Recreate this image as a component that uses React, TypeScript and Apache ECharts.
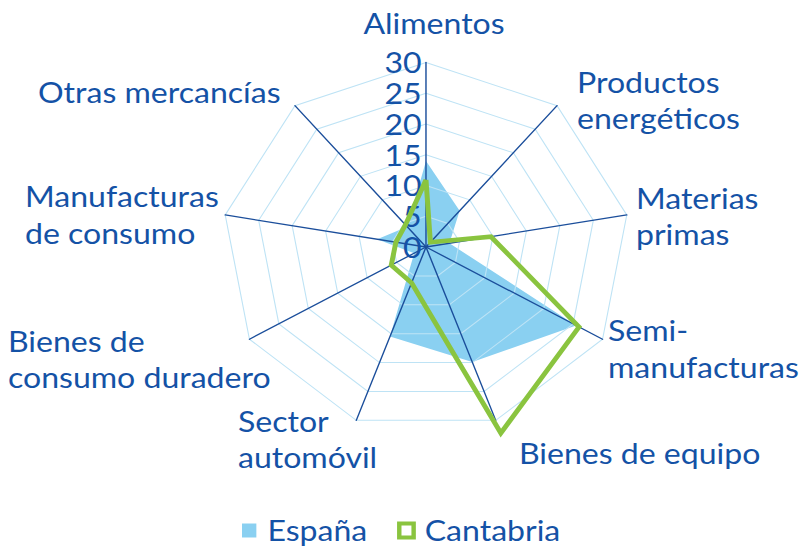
import React, { useEffect, useRef } from 'react';
import * as echarts from 'echarts';

// ---- data (clockwise from the top) ----
const categories = [
  'Alimentos',
  'Productos energéticos',
  'Materias primas',
  'Semi-manufacturas',
  'Bienes de equipo',
  'Sector automóvil',
  'Bienes de consumo duradero',
  'Manufacturas de consumo',
  'Otras mercancías',
];
const categoryLabels = [
  'Alimentos',
  'Productos\nenergéticos',
  'Materias\nprimas',
  'Semi-\nmanufacturas',
  'Bienes de equipo',
  'Sector\nautomóvil',
  'Bienes de\nconsumo duradero',
  'Manufacturas\nde consumo',
  'Otras mercancías',
];
const espana = [14.0, 7.7, 3.5, 25.5, 19.9, 15.5, 2.0, 7.3, 4.3];
const cantabria = [10.9, 1.0, 9.7, 26.0, 32.2, 6.2, 5.9, 4.5, 4.7];
const seriesNames = ['España', 'Cantabria'];
const axisMin = 0;
const axisMax = 30;
const axisStep = 5;

// ---- layout / style ----
const SX = 1.105;
const W = 804 / SX;
const FONT = 'Lato, "Noto Sans", sans-serif';
const TEXT = '#1452A6';
const AXIS = '#1B4E9B';
const GRID = '#BEE3F5';
const BLUE = '#8AD0F1';
const GREEN = '#8AC43F';
const FS = 29;
const LH = 36.5;

const labelLayout = [
  { x: 434 / SX, y: 23.5, align: 'center' },
  { x: 577 / SX, y: 82 + LH / 2, align: 'left' },
  { x: 636 / SX, y: 198 + LH / 2, align: 'left' },
  { x: 608 / SX, y: 330.5 + LH / 2, align: 'left' },
  { x: 519 / SX, y: 453, align: 'left' },
  { x: 238 / SX, y: 421 + LH / 2, align: 'left' },
  { x: 8 / SX, y: 341 + LH / 2, align: 'left' },
  { x: 25 / SX, y: 196.5 + LH / 2, align: 'left' },
  { x: 38 / SX, y: 92, align: 'left' },
];

// ECharts places indicators counter-clockwise: keep the first, reverse the rest
const order = [0, ...categories.map((_, i) => i).slice(1).reverse()];
const ordered = (arr: number[]) => order.map((k) => arr[k]);

export default function App() {
  const ref = useRef<HTMLDivElement>(null);
  useEffect(() => {
    if (!ref.current) return;
    const chart = echarts.init(ref.current, null, { renderer: 'svg' });
    const option: any = {
      animation: false,
      textStyle: { fontFamily: FONT },
      radar: {
        center: [426 / SX, 247],
        radius: 184.5,
        startAngle: 90,
        shape: 'polygon',
        splitNumber: (axisMax - axisMin) / axisStep,
        z: 2,
        axisName: { show: false },
        indicator: order.map((k, j) => {
          const ind: any = { name: categories[k], min: axisMin, max: axisMax };
          if (j === 0) {
            ind.axisLabel = {
              show: true,
              color: TEXT,
              fontSize: 29,
              lineHeight: 29,
              fontFamily: FONT,
              margin: 4,
            };
          }
          return ind;
        }),
        axisLine: { lineStyle: { color: AXIS, width: 1.3 } },
        axisTick: { show: false },
        axisLabel: { show: false },
        splitLine: { lineStyle: { color: GRID, width: 1 } },
        splitArea: { show: false },
      },
      legend: {
        left: 214,
        top: 511,
        itemWidth: 13,
        itemHeight: 14,
        itemGap: 27,
        icon: 'rect',
        textStyle: { fontSize: FS, color: TEXT, fontFamily: FONT, padding: [0, 0, 0, 5] },
        data: [
          { name: seriesNames[0], itemStyle: { color: BLUE } },
          { name: seriesNames[1], itemStyle: { color: '#ffffff', borderColor: GREEN, borderWidth: 4 } },
        ],
      },
      graphic: labelLayout.map((p, i) => ({
        type: 'text',
        x: p.x,
        y: p.y,
        silent: true,
        z: 10,
        style: {
          text: categoryLabels[i],
          fill: TEXT,
          fontSize: FS,
          fontFamily: FONT,
          align: p.align,
          verticalAlign: 'middle',
          lineHeight: LH,
        },
      })),
      series: [
        {
          type: 'radar',
          z: 1,
          symbol: 'none',
          itemStyle: { color: BLUE },
          lineStyle: { width: 0, color: BLUE },
          areaStyle: { color: BLUE, opacity: 1 },
          data: [{ name: seriesNames[0], value: ordered(espana) }],
        },
        {
          type: 'radar',
          z: 3,
          symbol: 'none',
          itemStyle: { color: GREEN },
          lineStyle: { width: 4.5, color: GREEN, join: 'miter', miterLimit: 20 },
          data: [{ name: seriesNames[1], value: ordered(cantabria) }],
        },
      ],
    };
    chart.setOption(option);
    return () => chart.dispose();
  }, []);
  return (
    <div
      ref={ref}
      style={{
        position: 'absolute',
        left: 0,
        top: 0,
        width: W,
        height: 548,
        transform: `scaleX(${SX})`,
        transformOrigin: '0 0',
        background: '#ffffff',
      }}
    />
  );
}
